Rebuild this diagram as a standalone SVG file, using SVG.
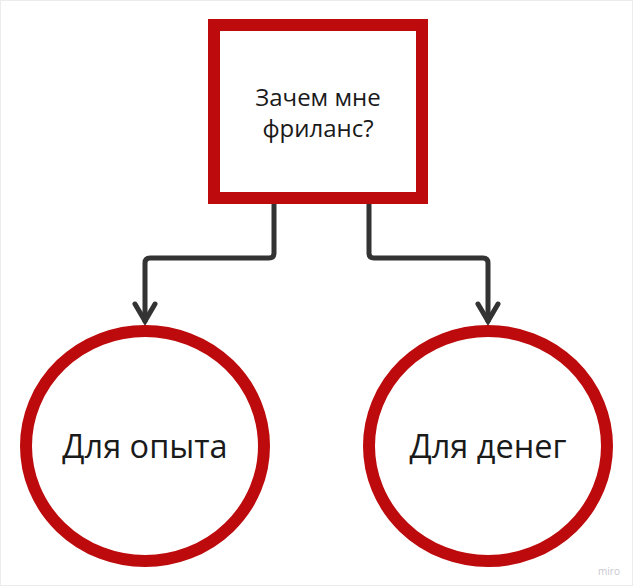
<svg xmlns="http://www.w3.org/2000/svg" width="633" height="586" viewBox="0 0 633 586">
<style>
.node{fill:#ffffff;stroke:#bd0a0c;stroke-width:12}
.lbl{font-family:"Open Sans","Noto Sans","DejaVu Sans",sans-serif;fill:#1a1a1a;text-anchor:middle}
.conn{fill:none;stroke:#333333;stroke-width:5;stroke-linejoin:round;stroke-linecap:round}
</style>
<defs>
<marker id="arr" markerUnits="userSpaceOnUse" viewBox="-22 -14 26 28" refX="0" refY="0" markerWidth="26" markerHeight="28" orient="auto" overflow="visible">
<path d="M-17,-10 L0,0 L-17,10" fill="none" stroke="#333333" stroke-width="5" stroke-linejoin="miter" stroke-linecap="round"/>
</marker>
</defs>
<rect x="0.5" y="0.5" width="632" height="585" fill="#ffffff" stroke="#ececec" stroke-width="1"/>
<g id="connectors">
<path class="conn" d="M274,204 V253 Q274,258 269,258 H150 Q145,258 145,263 V321" marker-end="url(#arr)"/>
<path class="conn" d="M369,204 V253 Q369,258 374,258 H483 Q488,258 488,263 V321" marker-end="url(#arr)"/>
</g>
<g id="node-question">
<rect class="node" x="214" y="25" width="208" height="173"/>
<text class="lbl" x="318" y="106" font-size="24">Зачем мне</text>
<text class="lbl" x="318" y="137" font-size="24">фриланс?</text>
</g>
<g id="node-experience">
<ellipse class="node" cx="145" cy="446" rx="119" ry="115"/>
<text class="lbl" x="145" y="458" font-size="32.5">Для опыта</text>
</g>
<g id="node-money">
<ellipse class="node" cx="488" cy="446" rx="119" ry="115"/>
<text class="lbl" x="488" y="458" font-size="32.5">Для денег</text>
</g>
<text x="609" y="575" font-family="'Open Sans','Noto Sans',sans-serif" font-size="10" fill="#c8c8d0" text-anchor="middle">miro</text>
</svg>
